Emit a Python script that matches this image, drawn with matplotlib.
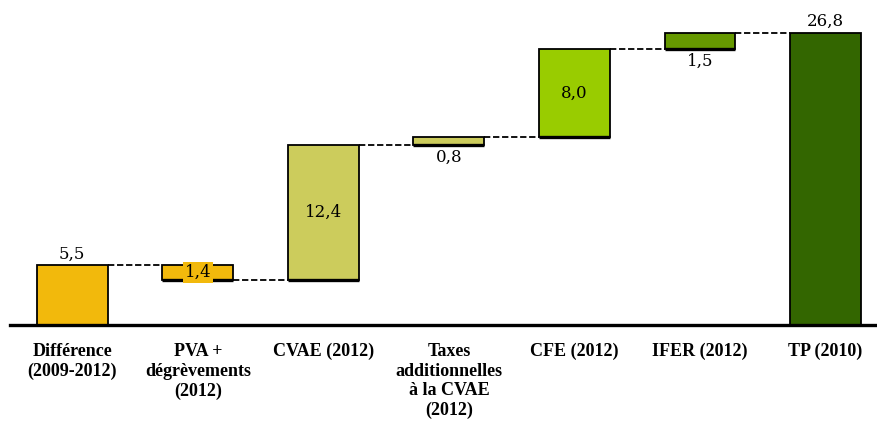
import matplotlib
matplotlib.use("Agg")
import matplotlib.pyplot as plt

categories = ["Différence\n(2009-2012)", "PVA +\ndégrèvements\n(2012)", "CVAE (2012)",
              "Taxes\nadditionnelles\nà la CVAE\n(2012)", "CFE (2012)", "IFER (2012)", "TP (2010)"]
bottoms = [0.0, 4.1, 4.1, 16.5, 17.3, 25.3, 0.0]
heights = [5.5, 1.4, 12.4, 0.8, 8.0, 1.5, 26.8]
value_labels = ["5,5", "1,4", "12,4", "0,8", "8,0", "1,5", "26,8"]
colors = ["#F2B90C", "#F2B90C", "#CCCC5C", "#CCCC5C", "#99CC00", "#669900", "#336600"]
connector_levels = [5.5, 4.1, 16.5, 17.3, 25.3, 26.8]
label_pos = ["above", "inside", "inside", "below", "inside", "below", "above"]

W, H = 877, 421
fig = plt.figure(figsize=(W / 100, H / 100), dpi=100)
ax = fig.add_axes([9.5 / W, 96 / H, (877 - 9.5) / W, (325 - 8) / H])
x = list(range(len(categories)))
bw = 0.565
ax.bar(x, heights, bottom=bottoms, width=bw, color=colors, edgecolor="black", linewidth=1.3, zorder=2)

# thick bottom edges on floating bars
for i in range(len(x)):
    if bottoms[i] > 0:
        ax.plot([x[i] - bw / 2, x[i] + bw / 2], [bottoms[i], bottoms[i]], color="black", lw=2.4,
                solid_capstyle="butt", zorder=3)

# connectors
for i, lvl in enumerate(connector_levels):
    ax.plot([x[i] + bw / 2, x[i + 1] - bw / 2], [lvl, lvl], color="black", lw=1.3,
            ls=(0, (3.5, 1.5)), zorder=1)

vfs = 12
for i in range(len(x)):
    top = bottoms[i] + heights[i]
    if label_pos[i] == "above":
        ax.text(x[i], top + 0.25, value_labels[i], ha="center", va="bottom", fontsize=vfs,
                family="DejaVu Serif")
    elif label_pos[i] == "below":
        ax.text(x[i], bottoms[i] - 0.3, value_labels[i], ha="center", va="top", fontsize=vfs,
                family="DejaVu Serif")
    else:
        bbox = None
        if i == 1:
            bbox = dict(facecolor=colors[i], edgecolor="none", pad=1.5)
        ax.text(x[i], bottoms[i] + heights[i] / 2, value_labels[i], ha="center", va="center",
                fontsize=vfs, family="DejaVu Serif", bbox=bbox, zorder=4)

ax.set_xlim(-0.5, 6.41)
ax.set_ylim(0, 26.8 + 25 / 10.9)
ax.set_xticks(x)
ax.set_xticklabels(categories, fontsize=13, fontweight="bold", family="Liberation Serif",
                   linespacing=1.2, va="top")
ax.tick_params(axis="x", length=0, pad=13)
ax.set_yticks([])
for s in ["top", "right", "left"]:
    ax.spines[s].set_visible(False)
ax.spines["bottom"].set_linewidth(2.4)
ax.spines["bottom"].set_zorder(5)

fig.savefig("out.png", dpi=100)
